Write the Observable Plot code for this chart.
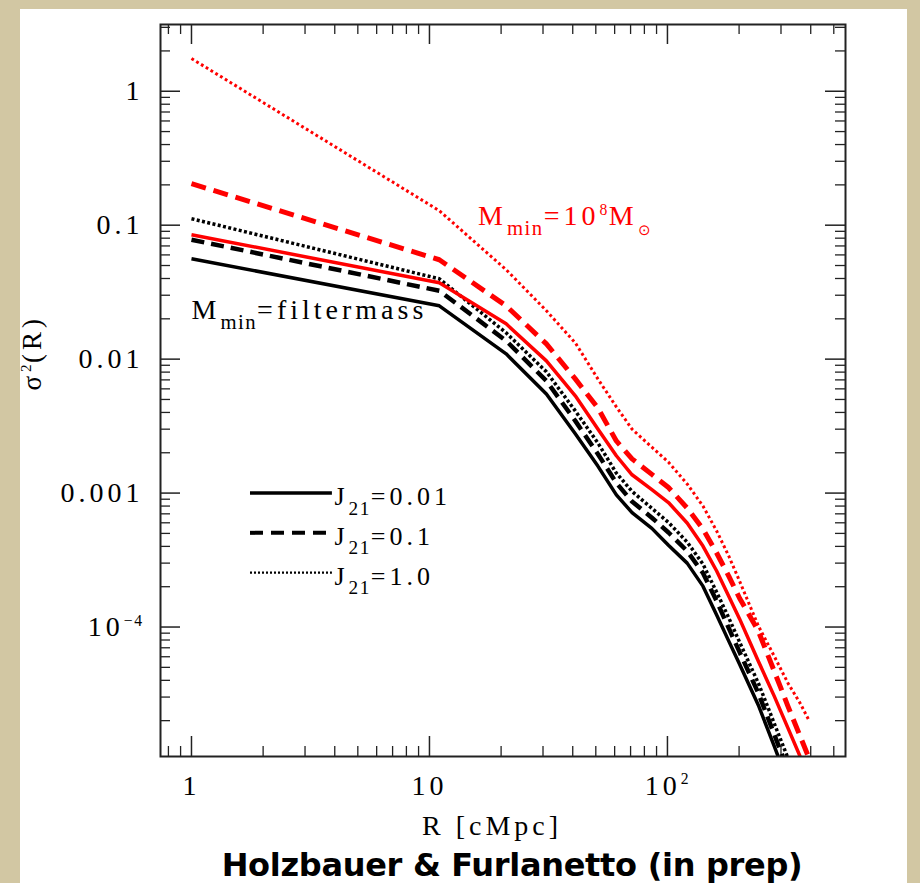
<!DOCTYPE html>
<html><head><meta charset="utf-8">
<script src="https://cdn.jsdelivr.net/npm/d3@7"></script>
<script src="https://cdn.jsdelivr.net/npm/@observablehq/plot@0.6"></script>
<style>
html,body{margin:0;padding:0;width:920px;height:883px;overflow:hidden;background:#d2c7a3;}
#panel{position:absolute;left:20px;top:9px;width:887px;height:874px;background:#fff;}
#chart{position:absolute;left:0;top:0;width:920px;}
#chart svg text{letter-spacing:4px;}
#caption{position:absolute;left:512px;top:849px;transform:translateX(-50%);white-space:nowrap;font-family:"DejaVu Sans";font-weight:bold;font-size:32px;line-height:32px;letter-spacing:-0.3px;color:#000;}
</style></head><body>
<div id="panel"></div>
<div id="chart"></div>
<div id="caption">Holzbauer &amp; Furlanetto (in prep)</div>
<script>
// ---- data ----
const R = [1, 11, 21, 31, 41, 51, 61, 71, 86, 101, 121, 141, 161, 181, 201, 241, 281, 321, 361, 391];

const filterJ001 = [0.0562, 0.0250, 0.01095, 0.00550, 0.00277, 0.00159, 0.000970, 0.000715, 0.000545, 0.000408, 0.000300, 0.000202, 0.000123, 7.85e-5, 5.28e-5, 2.61e-5, 1.29e-5, 6.93e-6, 4.14e-6, 2.74e-6];
const filterJ01  = [0.0779, 0.0324, 0.0137, 0.00688, 0.00346, 0.00196, 0.00119, 0.000865, 0.000655, 0.000508, 0.000369, 0.000253, 0.000156, 9.81e-5, 6.49e-5, 3.21e-5, 1.58e-5, 8.52e-6, 5.00e-6, 3.42e-6];
const filterJ1   = [0.1118, 0.0398, 0.01572, 0.00804, 0.00411, 0.00237, 0.00141, 0.00103, 0.000770, 0.000604, 0.000431, 0.000295, 0.000182, 0.000117, 7.71e-5, 3.81e-5, 1.91e-5, 1.05e-5, 6.25e-6, 4.21e-6];
const m8J001     = [0.0849, 0.0372, 0.01835, 0.00971, 0.00532, 0.00301, 0.00190, 0.00137, 0.00106, 0.000850, 0.000598, 0.000402, 0.000262, 0.000170, 0.000115, 5.56e-5, 3.05e-5, 1.76e-5, 1.08e-5, 8.09e-6];
const m8J01      = [0.2043, 0.0552, 0.0250, 0.0130, 0.00712, 0.00432, 0.00245, 0.00180, 0.00138, 0.00110, 0.000774, 0.000539, 0.000357, 0.000240, 0.000164, 9.32e-5, 4.68e-5, 2.56e-5, 1.53e-5, 1.08e-5];
const m8J1       = [1.755, 0.1283, 0.0465, 0.0230, 0.01323, 0.00712, 0.00440, 0.00300, 0.00220, 0.00170, 0.00117, 0.000801, 0.000521, 0.000339, 0.000220, 0.000102, 6.06e-5, 3.81e-5, 2.70e-5, 2.05e-5];

const seriesNames = ["filtermass J21=0.01", "filtermass J21=0.1", "filtermass J21=1.0", "1e8 J21=0.01", "1e8 J21=0.1", "1e8 J21=1.0"];
const seriesValues = [filterJ001, filterJ01, filterJ1, m8J001, m8J01, m8J1];

const xMajor = [1, 10, 100];
const xMinor = [0.8, 0.9, 2, 3, 4, 5, 6, 7, 8, 9, 20, 30, 40, 50, 60, 70, 80, 90, 200, 300, 400, 500];
const yMajor = [1e-4, 1e-3, 0.01, 0.1, 1];
const yMinor = [2e-5,3e-5,4e-5,5e-5,6e-5,7e-5,8e-5,9e-5, 2e-4,3e-4,4e-4,5e-4,6e-4,7e-4,8e-4,9e-4, 2e-3,3e-3,4e-3,5e-3,6e-3,7e-3,8e-3,9e-3, 0.02,0.03,0.04,0.05,0.06,0.07,0.08,0.09, 0.2,0.3,0.4,0.5,0.6,0.7,0.8,0.9, 2, 3];
const xTickLabels = ["1", "10", "10^{2}"];
const yTickLabels = ["10^{−4}", "0.001", "0.01", "0.1", "1"];

const legendLabels = ["J_{21}=0.01", "J_{21}=0.1", "J_{21}=1.0"];

// ---- styles ----
const styles = [
  {color: "#000", dash: null,      width: 3.5},
  {color: "#000", dash: "13,7",    width: 4.5},
  {color: "#000", dash: "3,2.4",   width: 3.5},
  {color: "#ff0000", dash: null,   width: 3.5},
  {color: "#ff0000", dash: "15,8", width: 5},
  {color: "#ff0000", dash: "2.8,2.8", width: 3}
];
const legendStyles = [
  {dash: null, width: 3.5, y: 0.001},
  {dash: "13,8", width: 4, y: 5.05e-4},
  {dash: "2,2", width: 2.2, y: 2.55e-4}
];
const legendX = [1.77, 3.91];

const frameW = 685, frameH = 732;
const tickStroke = "#222";

const lineMarks = seriesValues.map((vals, k) =>
  Plot.line(R.map((r, i) => ({R: r, v: vals[i], s: seriesNames[k]})), {
    x: "R", y: "v", stroke: styles[k].color, strokeWidth: styles[k].width,
    strokeDasharray: styles[k].dash, strokeLinecap: "butt", strokeLinejoin: "round", clip: true
  })
);

const legendRows = legendLabels.map((l, i) => ({label: l, y: legendStyles[i].y}));
const legendMarks = legendRows.map((row, i) =>
  Plot.ruleY([row], {y: "y", x1: () => legendX[0], x2: () => legendX[1], stroke: "#000",
    strokeWidth: legendStyles[i].width, strokeDasharray: legendStyles[i].dash})
);

const chart = Plot.plot({
  width: 920, height: 800,
  marginLeft: 160, marginRight: 75, marginTop: 24, marginBottom: 44,
  x: {type: "log", domain: [0.741, 560], axis: null},
  y: {type: "log", domain: [1.08e-5, 3.15], axis: null},
  style: {fontFamily: "'Liberation Serif', serif", background: "transparent", color: "#000", overflow: "visible"},
  marks: [
    Plot.tickX(xMajor, {x: d => d, insetTop: frameH - 20, stroke: tickStroke, strokeWidth: 1.5}),
    Plot.tickX(xMajor, {x: d => d, insetBottom: frameH - 20, stroke: tickStroke, strokeWidth: 1.5}),
    Plot.tickX(xMinor, {x: d => d, insetTop: frameH - 10, stroke: tickStroke, strokeWidth: 1.3}),
    Plot.tickX(xMinor, {x: d => d, insetBottom: frameH - 10, stroke: tickStroke, strokeWidth: 1.3}),
    Plot.tickY(yMajor, {y: d => d, insetRight: frameW - 20, stroke: tickStroke, strokeWidth: 1.5}),
    Plot.tickY(yMajor, {y: d => d, insetLeft: frameW - 20, stroke: tickStroke, strokeWidth: 1.5}),
    Plot.tickY(yMinor, {y: d => d, insetRight: frameW - 10, stroke: tickStroke, strokeWidth: 1.3}),
    Plot.tickY(yMinor, {y: d => d, insetLeft: frameW - 10, stroke: tickStroke, strokeWidth: 1.3}),
    ...lineMarks,
    ...legendMarks,
    Plot.text(legendRows, {x: () => legendX[1], y: "y", text: "label", textAnchor: "start", lineAnchor: "middle", dx: 2, dy: 4, fontSize: 26, fill: "#000"}),
    Plot.text(["M_{min}=filtermass"], {x: () => 1, y: () => 0.02, text: d => d, textAnchor: "start", lineAnchor: "bottom", fontSize: 28, fill: "#000"}),
    Plot.text(["M_{min}=10^{8}M_{⊙}"], {x: () => 16, y: () => 0.1, text: d => d, textAnchor: "start", lineAnchor: "bottom", fontSize: 28, fill: "#ff0000"}),
    Plot.text(xMajor, {x: d => d, frameAnchor: "bottom", dy: 38, lineAnchor: "bottom", text: (d, i) => xTickLabels[i], fontSize: 28, fill: "#000"}),
    Plot.text(yMajor, {y: d => d, frameAnchor: "left", dx: -17, textAnchor: "end", lineAnchor: "middle", text: (d, i) => yTickLabels[i], fontSize: 28, fill: "#000"}),
    Plot.text(["σ^{2}(R)"], {frameAnchor: "left", dx: -128, rotate: -90, lineAnchor: "middle", text: d => d, fontSize: 27, fill: "#000"}),
    Plot.text(["R [cMpc]"], {frameAnchor: "bottom", dx: -11, dy: 78, lineAnchor: "bottom", text: d => d, fontSize: 28, fill: "#000"}),
    Plot.frame({stroke: "#222", strokeWidth: 2})
  ]
});
document.getElementById("chart").appendChild(chart);

// turn _{..} / ^{..} markup into real sub/superscript tspans
const NS = "http://www.w3.org/2000/svg";
chart.querySelectorAll("text").forEach(el => {
  const s = el.textContent;
  if (s.startsWith("J_{")) el.style.letterSpacing = "4px";
  if (!/[_^]\{/.test(s)) return;
  const fs = parseFloat(getComputedStyle(el).fontSize);
  const parts = s.split(/([_^]\{[^}]*\})/).filter(p => p.length);
  while (el.firstChild) el.removeChild(el.firstChild);
  let offset = 0;
  for (const p of parts) {
    const t = document.createElementNS(NS, "tspan");
    let target = 0, txt = p, size = null;
    if (p[0] === "_") { txt = p.slice(2, -1); target = 0.36 * fs; size = (txt === "⊙" ? 0.55 : 0.74) * fs; }
    else if (p[0] === "^") { txt = p.slice(2, -1); target = -0.36 * fs; size = 0.56 * fs; }
    if (target - offset !== 0) t.setAttribute("dy", target - offset);
    offset = target;
    if (size) { t.setAttribute("font-size", size); t.style.letterSpacing = "1.5px"; }
    t.textContent = txt;
    el.appendChild(t);
  }
});
</script>
</body></html>
